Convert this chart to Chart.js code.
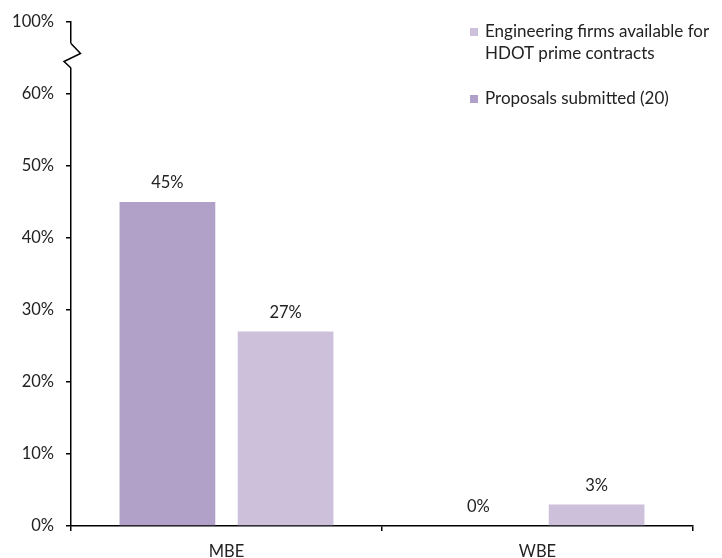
<!DOCTYPE html>
<html>
<head>
<meta charset="utf-8">
<script src="https://cdn.jsdelivr.net/npm/chart.js@4/dist/chart.umd.min.js"></script>
<style>
  html, body { margin: 0; padding: 0; background: #ffffff; }
  #wrap { width: 722px; height: 558px; position: relative; }
</style>
</head>
<body>
<div id="wrap"><canvas id="c" width="722" height="558"></canvas></div>
<script>
// Categories and series (percent values)
const categories = ['MBE', 'WBE'];
const proposalsLabel = 'Proposals submitted (20)';
const proposalsValues = [45, 0];
const availableLabel = 'Engineering firms available for HDOT prime contracts';
const availableLines = ['Engineering firms available for', 'HDOT prime contracts'];
const availableValues = [27, 3];

// Y axis: 0–60% drawn to scale, the top tick stands in for 100% above a break
const yTicks = [0, 10, 20, 30, 40, 50, 60, 70];
const yTickLabels = ['0%', '10%', '20%', '30%', '40%', '50%', '60%', '100%'];

const FONT = 'Lato, "Open Sans", sans-serif';
const FONT_SIZE = 16.5;
const LEGEND_SIZE = 17;
const TEXT = '#222222';
const DARK = '#B1A0C7';
const LIGHT = '#CCC0DA';

// Value labels above every bar
const valueLabels = {
  id: 'valueLabels',
  afterDatasetsDraw(chart) {
    const ctx = chart.ctx;
    ctx.save();
    ctx.font = FONT_SIZE + 'px ' + FONT;
    ctx.fillStyle = TEXT;
    ctx.textAlign = 'center';
    ctx.textBaseline = 'middle';
    chart.data.datasets.forEach((ds, i) => {
      chart.getDatasetMeta(i).data.forEach((bar, j) => {
        ctx.fillText(ds.data[j] + '%', bar.x, bar.y - 19);
      });
    });
    ctx.restore();
  }
};

// Zig-zag break on the value axis between 60% and 100%
const axisBreak = {
  id: 'axisBreak',
  afterDraw(chart) {
    const ctx = chart.ctx;
    const x = chart.scales.y.right;
    const y = chart.scales.y;
    const top = y.getPixelForValue(67);
    const bottom = y.getPixelForValue(63.6);
    ctx.save();
    ctx.fillStyle = '#ffffff';
    ctx.fillRect(x - 2, top, 4, bottom - top);
    ctx.strokeStyle = '#000000';
    ctx.lineWidth = 1.5;
    ctx.beginPath();
    ctx.moveTo(x, top);
    ctx.lineTo(x + 9.5, top + 10);
    ctx.lineTo(x - 7, top + 18);
    ctx.lineTo(x, bottom);
    ctx.stroke();
    ctx.restore();
  }
};

// Legend placed in the upper right of the plot
const insetLegend = {
  id: 'insetLegend',
  afterDraw(chart) {
    const ctx = chart.ctx;
    ctx.save();
    ctx.font = LEGEND_SIZE + 'px ' + FONT;
    ctx.textAlign = 'left';
    ctx.textBaseline = 'middle';
    const boxX = 470, textX = 485;
    ctx.fillStyle = LIGHT;
    ctx.fillRect(boxX, 28, 8, 8);
    ctx.fillStyle = TEXT;
    ctx.fillText(availableLines[0], textX, 32);
    ctx.fillText(availableLines[1], textX, 54);
    ctx.fillStyle = DARK;
    ctx.fillRect(boxX, 95, 8, 8);
    ctx.fillStyle = TEXT;
    ctx.fillText(proposalsLabel, textX, 99);
    ctx.restore();
  }
};

new Chart(document.getElementById('c'), {
  type: 'bar',
  data: {
    labels: categories,
    datasets: [
      { label: proposalsLabel, data: proposalsValues, backgroundColor: DARK },
      { label: availableLabel, data: availableValues, backgroundColor: LIGHT }
    ]
  },
  options: {
    responsive: false,
    animation: false,
    devicePixelRatio: 1,
    categoryPercentage: 0.76,
    barPercentage: 0.81,
    layout: { padding: { top: 20, right: 29, left: 0, bottom: 0 } },
    plugins: { legend: { display: false }, tooltip: { enabled: false } },
    scales: {
      x: {
        grid: { display: true, drawOnChartArea: false, drawTicks: true, tickLength: 5, color: '#000000', lineWidth: 1.5 },
        border: { display: true, color: '#000000', width: 1.5 },
        ticks: { color: TEXT, font: { family: FONT, size: FONT_SIZE }, padding: 11, maxRotation: 0 },
        afterFit(scale) { scale.height = 32; }
      },
      y: {
        min: 0,
        max: 70,
        afterBuildTicks(scale) { scale.ticks = yTicks.map(v => ({ value: v })); },
        grid: { display: true, drawOnChartArea: false, drawTicks: true, tickLength: 5, color: '#000000', lineWidth: 1.5 },
        border: { display: true, color: '#000000', width: 1.5 },
        ticks: {
          color: TEXT,
          font: { family: FONT, size: FONT_SIZE },
          padding: 12,
          callback(value) { return yTickLabels[yTicks.indexOf(value)]; }
        },
        afterFit(scale) { scale.width = 71; }
      }
    }
  },
  plugins: [valueLabels, axisBreak, insetLegend]
});
</script>
</body>
</html>
